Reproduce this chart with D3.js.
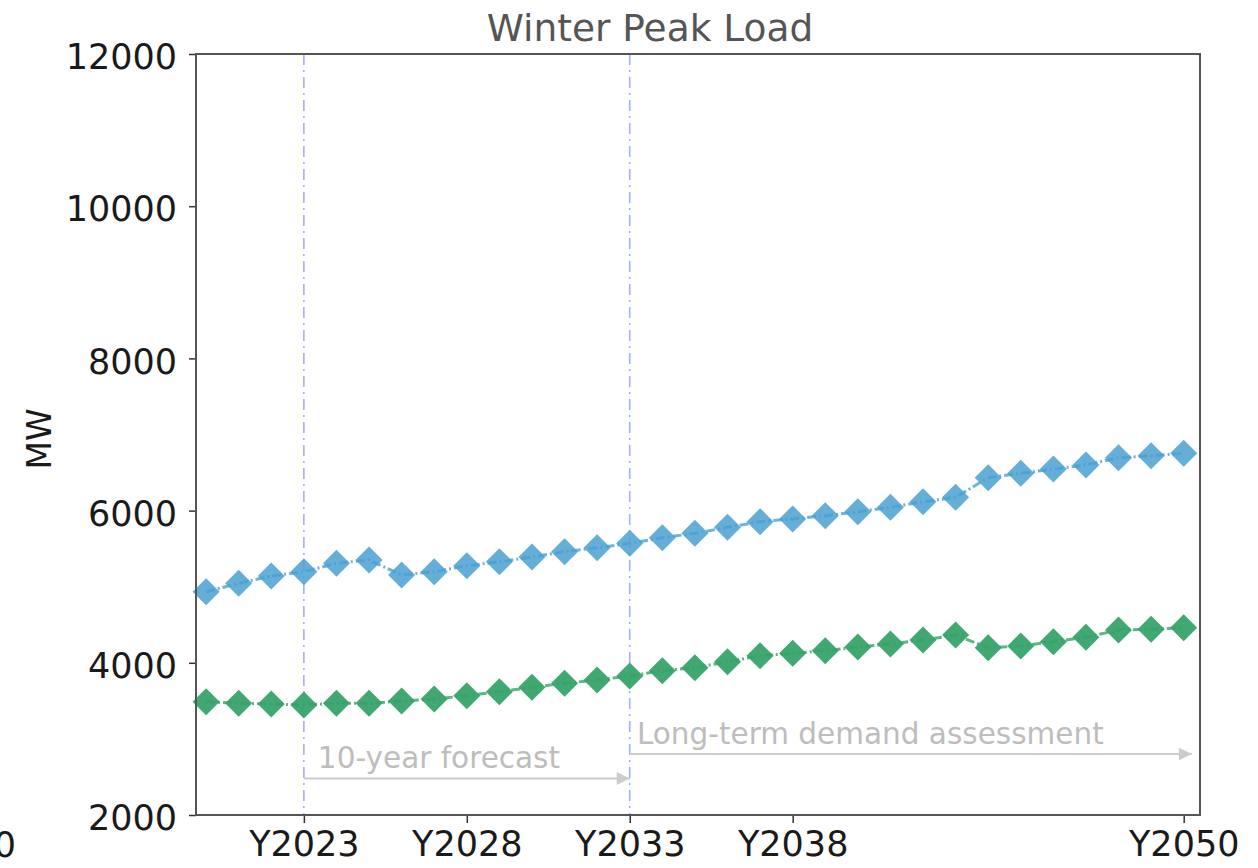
<!DOCTYPE html>
<html>
<head>
<meta charset="utf-8">
<script src="https://cdn.jsdelivr.net/npm/d3@7"></script>
<style>
  body { margin: 0; background: #fff; }
  #chart { width: 1258px; height: 868px; }
  text { font-family: "DejaVu Sans", Verdana, sans-serif; }
</style>
</head>
<body>
<div id="chart"></div>
<script>
const years = d3.range(2020, 2051);
const blueLoad = [4934, 5044, 5140, 5197, 5307, 5351, 5154, 5197, 5276, 5328, 5390,
    5460, 5512, 5570, 5644, 5701, 5780, 5854, 5890, 5933, 5985,
    6043, 6117, 6174, 6432, 6490, 6546, 6599, 6695, 6721, 6753];
const greenLoad = [3489, 3467, 3459, 3445, 3467, 3467, 3498, 3524, 3568, 3620, 3678,
    3730, 3774, 3826, 3896, 3935, 4014, 4093, 4125, 4159, 4207,
    4247, 4299, 4365, 4198, 4221, 4277, 4335, 4431, 4440, 4461];
const xTicks = [2023, 2028, 2033, 2038, 2050];
const yTicks = [2000, 4000, 6000, 8000, 10000, 12000];
const markerYears = [2023, 2033];

const width = 1258, height = 868;
const margin = {top: 54, right: 58, bottom: 53, left: 196};
const innerWidth = width - margin.left - margin.right;
const innerHeight = height - margin.top - margin.bottom;

const svg = d3.select("#chart")
    .append("svg")
    .attr("width", width)
    .attr("height", height);

const g = svg.append("g")
    .attr("transform", `translate(${margin.left},${margin.top})`);

const x = d3.scaleLinear()
    .domain([2019.69, 2050.5])
    .range([0, innerWidth]);

const y = d3.scaleLinear()
    .domain([2000, 12000])
    .range([innerHeight, 0]);

// vertical period markers
g.selectAll(".vline")
    .data(markerYears)
    .enter()
    .append("line")
    .attr("class", "vline")
    .attr("x1", d => x(d))
    .attr("x2", d => x(d))
    .attr("y1", 0)
    .attr("y2", innerHeight)
    .attr("stroke", "#9fb0ff")
    .attr("stroke-width", 1.6)
    .attr("stroke-dasharray", "11,5,2,5");

// arrows
const defs = svg.append("defs");
defs.append("marker")
    .attr("id", "arrow")
    .attr("viewBox", "0 0 10 10")
    .attr("refX", 10)
    .attr("refY", 5)
    .attr("markerWidth", 15)
    .attr("markerHeight", 13)
    .attr("markerUnits", "userSpaceOnUse")
    .attr("orient", "auto")
    .append("path")
    .attr("d", "M0,0L10,5L0,10Z")
    .attr("fill", "#cccccc");

const annotations = [
    {label: "10-year forecast", from: 2023, to: 2033, arrowY: 2480, textX: 2023.43, textY: 2620},
    {label: "Long-term demand assessment", from: 2033, to: 2050.25, arrowY: 2800, textX: 2033.22, textY: 2935}
];

annotations.forEach(a => {
    g.append("line")
        .attr("x1", x(a.from))
        .attr("x2", x(a.to))
        .attr("y1", y(a.arrowY))
        .attr("y2", y(a.arrowY))
        .attr("stroke", "#cccccc")
        .attr("stroke-width", 2)
        .attr("marker-end", "url(#arrow)");
    g.append("text")
        .attr("x", x(a.textX))
        .attr("y", y(a.textY))
        .style("font-size", "29.5px")
        .style("fill", "#bdbdbd")
        .text(a.label);
});

// series
const series = [
    {values: greenLoad, color: "#36a368", opacity: 0.95},
    {values: blueLoad, color: "#4aa0d1", opacity: 0.85}
];

const line = d3.line()
    .x((d, i) => x(years[i]))
    .y(d => y(d));

const diamond = d3.symbol().type(d3.symbolSquare).size(365);

series.forEach(s => {
    g.append("path")
        .datum(s.values)
        .attr("d", line)
        .attr("fill", "none")
        .attr("stroke", s.color)
        .attr("stroke-width", 3)
        .attr("stroke-opacity", 0.8)
        .attr("stroke-dasharray", "9,3,2,3");

    g.selectAll(null)
        .data(s.values)
        .enter()
        .append("path")
        .attr("d", diamond)
        .attr("transform", (d, i) => `translate(${x(years[i])},${y(d)}) rotate(45)`)
        .attr("fill", s.color)
        .attr("fill-opacity", s.opacity);
});

// axes
const xAxis = g.append("g")
    .attr("transform", `translate(0,${innerHeight})`)
    .call(d3.axisBottom(x)
        .tickValues(xTicks)
        .tickSize(8)
        .tickPadding(8)
        .tickFormat(d => "Y" + d));

const yAxis = g.append("g")
    .call(d3.axisLeft(y)
        .tickValues(yTicks)
        .tickSize(7)
        .tickPadding(12)
        .tickFormat(d3.format("d")));

[xAxis, yAxis].forEach(ax => {
    ax.select(".domain").remove();
    ax.selectAll("line").attr("stroke", "#333").attr("stroke-width", 1.5);
    ax.selectAll("text")
        .style("font-size", "35px")
        .style("font-family", "'DejaVu Sans', sans-serif")
        .style("fill", "#1a1a1a");
});
xAxis.selectAll("text").attr("dy", "0.72em");
yAxis.selectAll("text").attr("dy", "0.42em");

// frame
g.append("rect")
    .attr("width", innerWidth)
    .attr("height", innerHeight)
    .attr("fill", "none")
    .attr("stroke", "#555")
    .attr("stroke-width", 2);

// labels
svg.append("text")
    .attr("transform", "rotate(-90)")
    .attr("x", -439)
    .attr("y", 51)
    .attr("text-anchor", "middle")
    .style("font-size", "33px")
    .style("fill", "#1a1a1a")
    .text("MW");

svg.append("text")
    .attr("x", 650)
    .attr("y", 41)
    .attr("text-anchor", "middle")
    .style("font-size", "37.5px")
    .style("fill", "#555")
    .text("Winter Peak Load");

// clipped tick label at the far left edge
svg.append("text")
    .attr("x", 16)
    .attr("y", 857)
    .attr("text-anchor", "end")
    .style("font-size", "35px")
    .style("fill", "#1a1a1a")
    .text("0");
</script>
</body>
</html>
